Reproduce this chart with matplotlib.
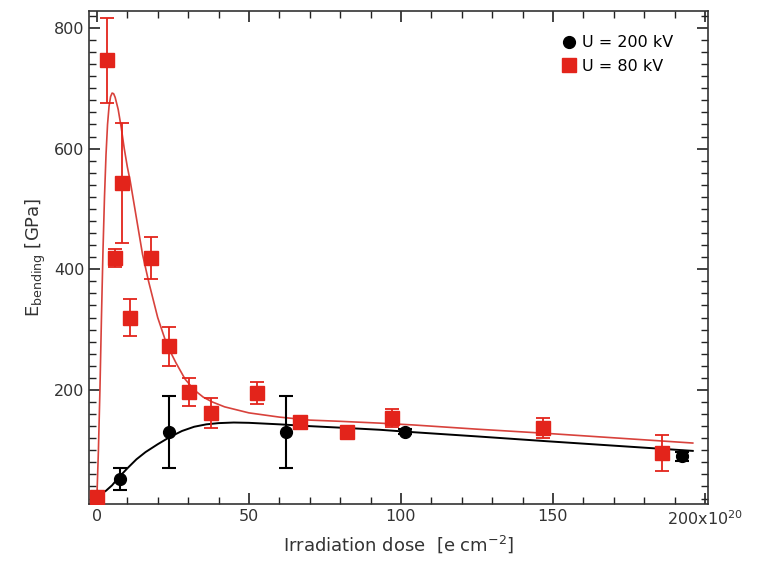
import numpy as np
import matplotlib as mpl
import matplotlib.pyplot as plt
from matplotlib.ticker import MultipleLocator

mpl.rcParams['font.family'] = 'DejaVu Sans'
mpl.rcParams['font.size'] = 11.0

# measured points, U = 200 kV
dose_200 = [0.0, 7.6, 23.7, 62.2, 101.3, 192.4]
E_200 = [25, 52, 130, 130, 131, 90]
err_200 = [5, 18, 60, 60, 4, 7]

# measured points, U = 80 kV
dose_80 = [0.0, 3.3, 5.9, 8.2, 10.9, 17.8, 23.7, 30.3, 37.5, 52.6, 66.8, 82.2, 97.0, 146.7, 186.0]
E_80 = [22, 746, 419, 543, 320, 419, 272, 197, 162, 195, 147, 130, 153, 137, 95]
err_80 = [5, 71, 15, 100, 30, 35, 33, 23, 25, 18, 6, 5, 15, 16, 30]

# fit curves
fit200_x = [0, 1.5, 3, 5, 7, 10, 13, 16, 20, 24, 28, 32, 36, 40, 45, 50, 60, 70, 80, 93, 104, 125, 148, 175, 196]
fit200_y = [30, 28, 33, 42, 54, 70, 85, 97, 110, 122, 132, 139, 143, 145, 146, 145.5, 143, 140, 137.5, 134, 130, 123, 115, 106, 99]

fit80_x = [0, 0.5, 1, 1.5, 2, 2.5, 3, 3.5, 4, 4.5, 5, 5.5, 6, 7, 8, 9, 10, 11, 12, 14, 15, 17, 20, 23, 26, 29,
           32, 35, 38, 42, 50, 60, 70, 80, 93, 104, 125, 148, 175, 196]
fit80_y = [22, 100, 200, 320, 430, 520, 590, 640, 670, 686, 692, 691, 685, 665, 635, 600, 570, 545, 515, 455, 425,
           380, 320, 275, 245, 218, 200, 188, 180, 172, 162, 155, 150, 148, 145, 142, 135, 128, 119, 112]

red = '#e3241b'

fig = plt.figure(figsize=(7.58, 5.65), dpi=100)
ax = fig.add_axes([0.1174, 0.108, 0.8166, 0.8725])

ax.plot(fit200_x, fit200_y, '-', color='black', lw=1.4, zorder=2)
ax.plot(fit80_x, fit80_y, '-', color='#d8423c', lw=1.2, zorder=2)

ax.errorbar(dose_200, E_200, yerr=err_200, fmt='o', color='black', ms=8.5, capsize=5, elinewidth=1.5,
            capthick=1.5, label='U = 200 kV', zorder=3)
ax.errorbar(dose_80, E_80, yerr=err_80, fmt='s', color=red, ms=9.5, capsize=5, elinewidth=1.3,
            capthick=1.3, label='U = 80 kV', zorder=4)

ax.set_xlim(-2.6, 201)
ax.set_ylim(11, 828)

ax.xaxis.set_major_locator(MultipleLocator(50))
ax.xaxis.set_minor_locator(MultipleLocator(10))
ax.yaxis.set_major_locator(MultipleLocator(200))
ax.yaxis.set_minor_locator(MultipleLocator(20))
ax.set_xticks([0, 50, 100, 150, 200])
ax.set_xticklabels(['0', '50', '100', '150', '200x10$^{20}$'])
ax.set_yticks([200, 400, 600, 800])

ax.tick_params(which='both', direction='in', top=True, right=True, colors='#222222', labelcolor='#333333')
ax.tick_params(which='major', length=8, width=1.2, labelsize=11.5)
ax.tick_params(which='minor', length=5, width=1.0)
for s in ax.spines.values():
    s.set_linewidth(1.2)
    s.set_color('#333333')

ax.set_xlabel('Irradiation dose  [e cm$^{-2}$]', fontsize=13, color='#333333')
ax.set_ylabel('E$_{\\mathrm{bending}}$ [GPa]', fontsize=13, color='#333333')

h, l = ax.get_legend_handles_labels()
h = [x[0] for x in h]
ax.legend(h, l, loc='upper right', frameon=False, fontsize=11.5, handletextpad=0.3,
          handlelength=1.0, borderaxespad=0.8, labelspacing=0.55, bbox_to_anchor=(0.975, 0.99))

fig.savefig('out.png', dpi=100)
